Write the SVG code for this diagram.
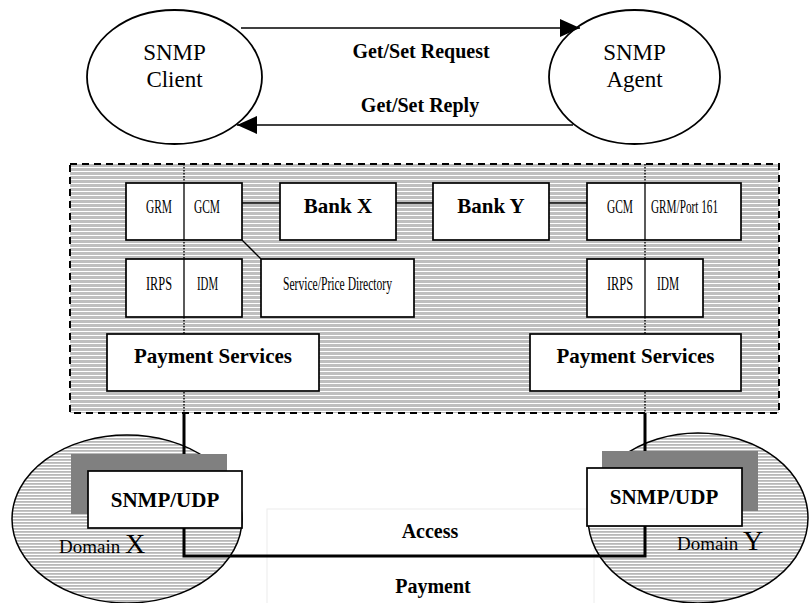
<svg xmlns="http://www.w3.org/2000/svg" width="809" height="603" viewBox="0 0 809 603">
  <defs>
    <!-- horizontal ruling used as fill for the service layer -->
    <pattern id="hatch" width="8" height="4" patternUnits="userSpaceOnUse">
      <rect width="8" height="4" fill="#ffffff"/>
      <rect width="8" height="3" fill="#bfbfbf"/>
    </pattern>
    <!-- lighter ruling for the domains -->
    <pattern id="hatch2" width="8" height="3" patternUnits="userSpaceOnUse">
      <rect width="8" height="3" fill="#ffffff"/>
      <rect width="8" height="1.8" fill="#b8b8b8"/>
    </pattern>
    <marker id="arrow" markerWidth="20" markerHeight="18" refX="20" refY="9" orient="auto" markerUnits="userSpaceOnUse">
      <path d="M0,0 L20,9 L0,18 Z" fill="#000"/>
    </marker>
    <style>
      .node { fill: #fff; stroke: #000; stroke-width: 1.7; }
      .circ { fill: #fff; stroke: #000; stroke-width: 1.8; }
      .thin { stroke: #000; stroke-width: 1.3; fill: none; }
      .thick { stroke: #000; stroke-width: 3; fill: none; }
      .dots { stroke: #000; stroke-width: 1.4; stroke-dasharray: 1.5 1.5; fill: none; }
      .serif { font-family: "Liberation Serif", "Times New Roman", serif; fill: #000; }
      .big { font-size: 23px; }
      .bold { font-weight: bold; }
      .cond { font-size: 18px; }
    </style>
  </defs>

  <rect width="809" height="603" fill="#fff"/>

  <!-- SNMP manager / agent exchange -->
  <g id="snmp-client">
    <ellipse class="circ" cx="174.5" cy="77" rx="87.5" ry="67"/>
    <text class="serif big" x="174.5" y="60" text-anchor="middle">SNMP</text>
    <text class="serif big" x="174.5" y="87" text-anchor="middle">Client</text>
  </g>
  <g id="snmp-agent">
    <ellipse class="circ" cx="634.5" cy="77" rx="85.5" ry="67"/>
    <text class="serif big" x="634.5" y="60" text-anchor="middle">SNMP</text>
    <text class="serif big" x="634.5" y="87" text-anchor="middle">Agent</text>
  </g>

  <!-- service layer background -->
  <g id="service-layer">
    <rect x="70" y="164" width="709" height="249" fill="url(#hatch)" stroke="#000" stroke-width="2" stroke-dasharray="7 5"/>
    <line class="dots" x1="184" y1="164" x2="184" y2="413"/>
    <line class="dots" x1="645" y1="164" x2="645" y2="413"/>
  </g>

  <!-- access / payment channel -->
  <g id="access-payment">
    <rect x="267" y="509" width="327" height="100" fill="#fff" stroke="#ececec" stroke-width="1"/>
    <text class="serif bold" font-size="20" x="430" y="538" text-anchor="middle">Access</text>
    <text class="serif bold" font-size="20" x="433" y="593" text-anchor="middle">Payment</text>
  </g>

  <g id="domain-x">
    <ellipse cx="127" cy="519" rx="115" ry="84" fill="url(#hatch2)" stroke="#000" stroke-width="1.5"/>
    <text class="serif" x="59" y="553" font-size="19">Domain <tspan font-size="28">X</tspan></text>
  </g>
  <g id="domain-y">
    <ellipse cx="698" cy="518" rx="110" ry="85" fill="url(#hatch2)" stroke="#000" stroke-width="1.5"/>
    <text class="serif" x="677" y="550" font-size="19">Domain <tspan font-size="28">Y</tspan></text>
  </g>

  <!-- connectors -->
  <g id="connectors">
    <line class="thin" x1="241" y1="28" x2="580" y2="28" marker-end="url(#arrow)"/>
    <line class="thin" x1="573" y1="125" x2="237" y2="125" marker-end="url(#arrow)"/>
    <text class="serif bold" font-size="20" x="421" y="58" text-anchor="middle">Get/Set Request</text>
    <text class="serif bold" font-size="20" x="420" y="112" text-anchor="middle">Get/Set Reply</text>
    <line class="thin" x1="242" y1="203" x2="280" y2="203"/>
    <line class="thin" x1="396" y1="203" x2="433" y2="203"/>
    <line class="thin" x1="549" y1="203" x2="587" y2="203"/>
    <line class="thin" x1="242" y1="240" x2="261" y2="259"/>
    <polyline class="thick" points="184,413 184,556 645,556 645,413"/>
  </g>

  <!-- left service stack -->
  <g id="grm-gcm-x">
    <rect class="node" x="126" y="183" width="116" height="57"/>
    <line class="thin" x1="184" y1="183" x2="184" y2="240"/>
    <text class="serif cond" x="146" y="213" textLength="26" lengthAdjust="spacingAndGlyphs">GRM</text>
    <text class="serif cond" x="194" y="213" textLength="26" lengthAdjust="spacingAndGlyphs">GCM</text>
  </g>
  <g id="bank-x">
    <rect class="node" x="280" y="183" width="116" height="57"/>
    <text class="serif bold" font-size="21" x="338" y="213" text-anchor="middle">Bank X</text>
  </g>
  <g id="irps-idm-x">
    <rect class="node" x="126" y="259" width="116" height="58"/>
    <line class="thin" x1="184" y1="259" x2="184" y2="317"/>
    <text class="serif cond" x="146" y="290" textLength="26" lengthAdjust="spacingAndGlyphs">IRPS</text>
    <text class="serif cond" x="197" y="290" textLength="21" lengthAdjust="spacingAndGlyphs">IDM</text>
  </g>
  <g id="service-price-directory">
    <rect class="node" x="261" y="259" width="153" height="58"/>
    <text class="serif cond" x="283" y="290" textLength="109" lengthAdjust="spacingAndGlyphs">Service/Price Directory</text>
  </g>
  <g id="payment-services-x">
    <rect class="node" x="107" y="334" width="212" height="57"/>
    <text class="serif bold" font-size="21" x="213" y="363" text-anchor="middle">Payment Services</text>
  </g>

  <!-- right service stack -->
  <g id="bank-y">
    <rect class="node" x="433" y="183" width="116" height="57"/>
    <text class="serif bold" font-size="21" x="491" y="213" text-anchor="middle">Bank Y</text>
  </g>
  <g id="gcm-grm-y">
    <rect class="node" x="587" y="183" width="154" height="57"/>
    <line class="thin" x1="645" y1="183" x2="645" y2="240"/>
    <text class="serif cond" x="607" y="213" textLength="26" lengthAdjust="spacingAndGlyphs">GCM</text>
    <text class="serif cond" x="651" y="213" textLength="67" lengthAdjust="spacingAndGlyphs">GRM/Port 161</text>
  </g>
  <g id="irps-idm-y">
    <rect class="node" x="587" y="259" width="116" height="58"/>
    <line class="thin" x1="645" y1="259" x2="645" y2="317"/>
    <text class="serif cond" x="607" y="290" textLength="26" lengthAdjust="spacingAndGlyphs">IRPS</text>
    <text class="serif cond" x="657" y="290" textLength="22" lengthAdjust="spacingAndGlyphs">IDM</text>
  </g>
  <g id="payment-services-y">
    <rect class="node" x="530" y="334" width="211" height="57"/>
    <text class="serif bold" font-size="21" x="635.5" y="363" text-anchor="middle">Payment Services</text>
  </g>

  <!-- transport endpoints -->
  <g id="snmp-udp-x">
    <rect x="71" y="454" width="156" height="60" fill="#808080"/>
    <rect class="node" x="88" y="471" width="154" height="57"/>
    <text class="serif bold" font-size="21" x="165" y="507" text-anchor="middle">SNMP/UDP</text>
  </g>
  <g id="snmp-udp-y">
    <rect x="602" y="451" width="156" height="60" fill="#808080"/>
    <rect class="node" x="587" y="468" width="155" height="58"/>
    <text class="serif bold" font-size="21" x="664" y="504" text-anchor="middle">SNMP/UDP</text>
  </g>
</svg>
